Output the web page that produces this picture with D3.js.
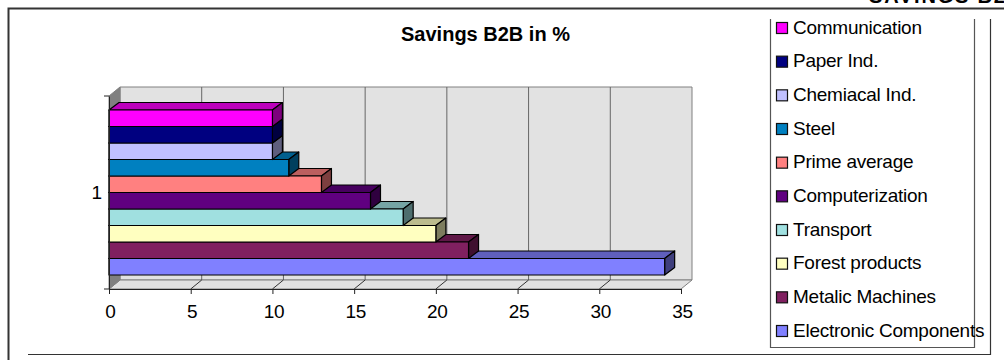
<!DOCTYPE html>
<html>
<head>
<meta charset="utf-8">
<script src="https://cdn.jsdelivr.net/npm/d3@7"></script>
<style>
  html, body { margin: 0; padding: 0; background: #fff; overflow: hidden; }
  text { font-family: "Liberation Sans", Arial, sans-serif; fill: #000; }
</style>
</head>
<body>
<script>
const categories = ['Electronic Components', 'Metalic Machines', 'Forest products', 'Transport',
  'Computerization', 'Prime average', 'Steel', 'Chemiacal Ind.', 'Paper Ind.', 'Communication'];
const values = [34, 22, 20, 18, 16, 13, 11, 10, 10, 10];
const colors = ['#8080ff', '#802060', '#ffffc0', '#a0e0e0', '#600080', '#ff8080', '#0080c0', '#c0c0ff', '#000080', '#ff00ff'];
const xTicks = [0, 5, 10, 15, 20, 25, 30, 35];
const axisLabels = ['1'];

const width = 1004, height = 360;
const plot = {left: 109, right: 681, top: 96, bottom: 289};
const wall = {dx: 11, dy: -9};   // back wall offset
const bar = {dx: 10, dy: -7.5};  // bar depth
const labelSize = 19;

const svg = d3.select('body').append('svg')
  .attr('width', width)
  .attr('height', height)
  .style('display', 'block');

const x = d3.scaleLinear().domain([0, 35]).range([plot.left, plot.right]);
const y = d3.scaleBand().domain(categories).range([plot.bottom, plot.top]).paddingInner(0).paddingOuter(0.85);

const poly = pts => pts.map(p => p.join(',')).join(' ');

// page frame
const frame = svg.append('g').attr('fill', 'none');
frame.append('path').attr('d', 'M8.5,360V8.5H1004').attr('stroke', '#333').attr('stroke-width', 2);
frame.append('path').attr('d', 'M28,354.5H990.5V19').attr('stroke', '#333').attr('stroke-width', 1.2);

svg.append('text')
  .attr('x', 869).attr('y', 3)
  .attr('font-size', 20).attr('font-weight', 'bold')
  .style('letter-spacing', '1.8px')
  .text('SAVINGS B2B');

svg.append('text')
  .attr('x', 485.5).attr('y', 41)
  .attr('text-anchor', 'middle')
  .attr('font-size', 20).attr('font-weight', 'bold')
  .text('Savings B2B in %');

// walls and floor
const box = svg.append('g').attr('stroke', '#808080');
box.append('polygon')
  .attr('points', poly([[plot.left + wall.dx, plot.top + wall.dy], [plot.right + wall.dx, plot.top + wall.dy],
    [plot.right + wall.dx, plot.bottom + wall.dy], [plot.left + wall.dx, plot.bottom + wall.dy]]))
  .attr('fill', '#e2e2e2');
box.append('polygon')
  .attr('points', poly([[plot.left, plot.bottom], [plot.right, plot.bottom],
    [plot.right + wall.dx, plot.bottom + wall.dy], [plot.left + wall.dx, plot.bottom + wall.dy]]))
  .attr('fill', '#e2e2e2');
box.append('polygon')
  .attr('points', poly([[plot.left, plot.top], [plot.left + wall.dx, plot.top + wall.dy],
    [plot.left + wall.dx, plot.bottom + wall.dy], [plot.left, plot.bottom]]))
  .attr('fill', '#808080');

// grid lines up the back wall and across the floor
const grid = svg.append('g').selectAll('g')
  .data(xTicks.slice(1, -1))
  .join('g');
grid.append('line')
  .attr('x1', d => x(d) + wall.dx).attr('x2', d => x(d) + wall.dx)
  .attr('y1', plot.top + wall.dy).attr('y2', plot.bottom + wall.dy)
  .attr('stroke', '#666');
grid.append('line')
  .attr('x1', d => x(d)).attr('x2', d => x(d) + wall.dx)
  .attr('y1', plot.bottom).attr('y2', plot.bottom + wall.dy)
  .attr('stroke', '#333');

// bars, front of the stack first so the upper ones sit over their neighbours' top faces
const bars = svg.append('g')
  .attr('stroke', '#000')
  .attr('stroke-width', 1.2)
  .attr('stroke-linejoin', 'round')
  .selectAll('g')
  .data(categories.map((name, i) => ({name, value: values[i], color: colors[i]})))
  .join('g');

bars.append('polygon')
  .attr('fill', d => d3.rgb(d.color).darker(0.85))
  .attr('points', d => {
    const t = y(d.name), r = x(d.value), l = plot.left;
    return poly([[l, t], [r, t], [r + bar.dx, t + bar.dy], [l + bar.dx, t + bar.dy]]);
  });
bars.append('polygon')
  .attr('fill', d => d3.rgb(d.color).darker(2))
  .attr('points', d => {
    const t = y(d.name), b = t + y.bandwidth(), r = x(d.value);
    return poly([[r, t], [r + bar.dx, t + bar.dy], [r + bar.dx, b + bar.dy], [r, b]]);
  });
bars.append('rect')
  .attr('x', plot.left)
  .attr('y', d => y(d.name))
  .attr('width', d => x(d.value) - plot.left)
  .attr('height', y.bandwidth())
  .attr('fill', d => d.color);

// value axis
const xAxis = svg.append('g')
  .attr('transform', `translate(0,${plot.bottom})`)
  .call(d3.axisBottom(x).tickValues(xTicks).tickSizeInner(5).tickSizeOuter(0).tickPadding(11));
xAxis.selectAll('text').attr('font-size', labelSize).attr('font-family', null).attr('dx', 1)
  .style('letter-spacing', '-0.3px');
xAxis.selectAll('path, line').attr('stroke', '#222');

// category axis
const yOuter = d3.scalePoint().domain(axisLabels).range([plot.bottom, plot.top]).padding(0.5);
const yAxis = svg.append('g')
  .attr('transform', `translate(${plot.left},0)`)
  .call(d3.axisLeft(yOuter).tickSize(0).tickPadding(7));
yAxis.selectAll('text').attr('font-size', labelSize).attr('font-family', null);
yAxis.select('path').attr('stroke', '#222');
yAxis.selectAll('.end-tick')
  .data([plot.top, plot.bottom])
  .join('line')
  .attr('class', 'end-tick')
  .attr('x1', -5).attr('x2', 0)
  .attr('y1', d => d).attr('y2', d => d)
  .attr('stroke', '#222');

// legend, listed top down in reverse series order
const legendItems = categories.map((name, i) => ({name, color: colors[i]})).reverse();
const legendY = d3.scalePoint().domain(legendItems.map(d => d.name)).range([28, 331]);

svg.append('path')
  .attr('d', 'M770.5,19V347.5H974.5V19')
  .attr('fill', 'none')
  .attr('stroke', '#555')
  .attr('stroke-width', 1.2);

const legend = svg.append('g').selectAll('g')
  .data(legendItems)
  .join('g')
  .attr('transform', d => `translate(776,${legendY(d.name)})`);
legend.append('rect')
  .attr('x', 0.5).attr('y', -5.5)
  .attr('width', 11).attr('height', 11)
  .attr('fill', d => d.color)
  .attr('stroke', '#111')
  .attr('stroke-width', 1.2);
legend.append('text')
  .attr('x', 17).attr('y', 5.5)
  .attr('font-size', labelSize)
  .style('letter-spacing', '-0.25px')
  .text(d => d.name);
</script>
</body>
</html>
